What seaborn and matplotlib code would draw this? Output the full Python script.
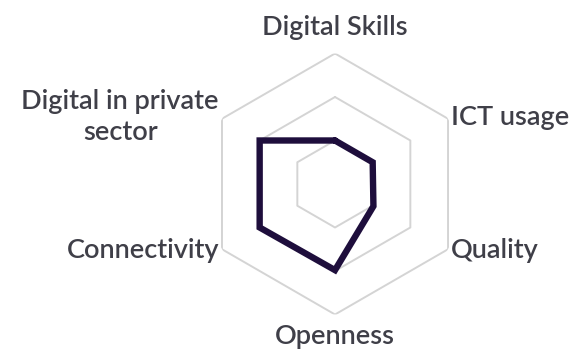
import numpy as np
import matplotlib
matplotlib.use("Agg")
import matplotlib.pyplot as plt
import seaborn as sns
import pandas as pd

# Data
categories = ["Digital Skills", "ICT usage", "Quality", "Openness",
              "Connectivity", "Digital in private\nsector"]
values = [1.0, 1.0, 1.02, 1.98, 2.0, 2.0]
rings = [1, 2, 3]

sns.set_style("white")
plt.rcParams['font.family'] = ['Lato', 'DejaVu Sans']

fig = plt.figure(figsize=(5.73, 3.51), dpi=100)
ax = fig.add_axes([0.3569, 0.104, 0.4555, 0.7436], projection='polar')
ax.set_theta_offset(np.pi / 2)
ax.set_theta_direction(-1)

angles = np.linspace(0, 2 * np.pi, len(categories), endpoint=False)
closed = np.append(angles, angles[0])

# hexagon grid
for r in rings:
    ax.plot(closed, [r] * len(closed), color='#d4d4d4', lw=1.4, zorder=1)

df = pd.DataFrame({'angle': closed, 'value': values + [values[0]]})
sns.lineplot(data=df, x='angle', y='value', sort=False, estimator=None,
             ax=ax, color='#1e0e3c', lw=4.6, zorder=3)
ax.lines[-1].set_solid_joinstyle('miter')

ax.set_ylim(0, 3)
ax.set_xticks([])
ax.set_yticks([])
ax.set_xlabel('')
ax.set_ylabel('')
ax.grid(False)
ax.spines['polar'].set_visible(False)
ax.patch.set_alpha(0)

txt = dict(color='#3f3f48', fontsize=19.5, fontweight='semibold')
ax.text(angles[0], 3.59, categories[0], ha='center', va='center', **txt)
ax.text(angles[1], 3.08, categories[1], ha='left', va='center', **txt)
ax.text(angles[2], 3.08, categories[2], ha='left', va='center', **txt)
ax.text(angles[3], 3.5, categories[3], ha='center', va='center', **txt)
ax.text(angles[4], 3.08, categories[4], ha='right', va='center', **txt)
ax.text(angles[5], 3.08, categories[5], ha='right', va='center',
        multialignment='center', linespacing=1.3, **txt)

fig.savefig('out.png', dpi=100)
